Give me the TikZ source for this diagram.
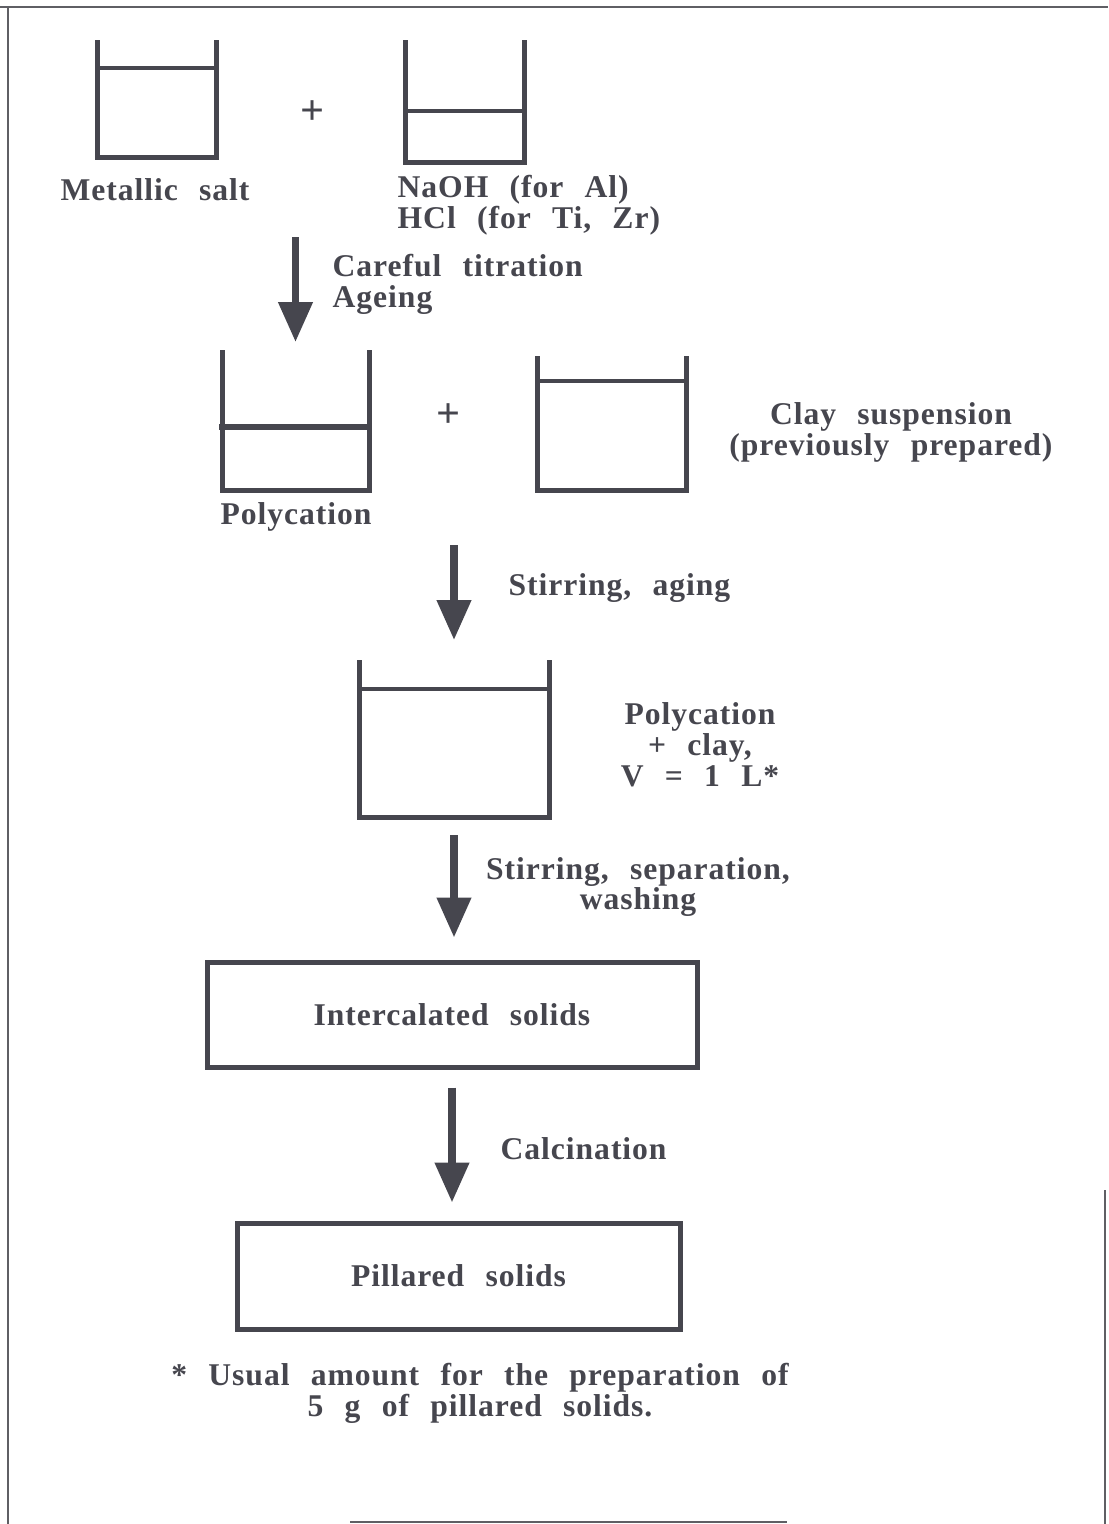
\documentclass[tikz,border=0pt]{standalone}
\usepackage{fontspec}
\setmainfont{Liberation Serif}[LetterSpace=3,WordSpace=2.4]
\usetikzlibrary{arrows.meta,positioning}
\usepackage{xcolor}
\definecolor{inkgray}{RGB}{70,70,78}
\definecolor{framegray}{RGB}{95,95,100}

\begin{document}
\begin{tikzpicture}[
    label/.style={font=\fontsize{9}{8.8}\selectfont\bfseries, text=inkgray, inner sep=0pt},
    plus/.style={font=\fontsize{12}{12}\selectfont\bfseries, text=inkgray, inner sep=0pt},
    beaker/.style={rectangle, inner sep=0pt, outer sep=0pt},
    wall/.style={line width=0.05cm, draw=inkgray, line cap=rect},
    liquid/.style={line width=0.04cm, draw=inkgray},
    stage/.style={rectangle, draw=inkgray, line width=0.05cm, inner sep=0pt,
                  font=\fontsize{9}{8.8}\selectfont\bfseries, text=inkgray},
    flow/.style={-{Triangle[width=0.33cm,length=0.40cm]}, line width=0.075cm, draw=inkgray}
]
\useasboundingbox (0,0) rectangle (11.08,-15.24);

% Frame
\draw[framegray, line width=0.02cm] (0,-0.07) -- (11.08,-0.07);
\draw[framegray, line width=0.02cm] (0.08,-0.07) -- (0.08,-15.24);
\draw[framegray, line width=0.02cm] (11.05,-11.90) -- (11.05,-15.24);
\draw[framegray, line width=0.02cm] (3.50,-15.22) -- (7.87,-15.22);

% Beakers
\node[beaker, minimum width=1.19cm, minimum height=1.15cm] (salt) at (1.565,-0.995) {};
\node[beaker, minimum width=1.19cm, minimum height=1.20cm] (base) at (4.645,-1.02) {};
\node[beaker, minimum width=1.47cm, minimum height=1.38cm] (poly) at (2.955,-4.21) {};
\node[beaker, minimum width=1.49cm, minimum height=1.32cm] (clay) at (6.115,-4.24) {};
\node[beaker, minimum width=1.90cm, minimum height=1.55cm] (mix) at (4.54,-7.395) {};

\draw[wall] (salt.north west) |- (salt.south east) -- (salt.north east);
\draw[liquid] ([yshift=-0.26cm]salt.north west) -- ([yshift=-0.26cm]salt.north east);
\draw[wall] (base.north west) |- (base.south east) -- (base.north east);
\draw[liquid] ([yshift=-0.69cm]base.north west) -- ([yshift=-0.69cm]base.north east);
\draw[wall] (poly.north west) |- (poly.south east) -- (poly.north east);
\draw[wall, line width=0.065cm] ([yshift=-0.75cm]poly.north west) -- ([yshift=-0.75cm]poly.north east);
\draw[wall] (clay.north west) |- (clay.south east) -- (clay.north east);
\draw[liquid] ([yshift=-0.23cm]clay.north west) -- ([yshift=-0.23cm]clay.north east);
\draw[wall] (mix.north west) |- (mix.south east) -- (mix.north east);
\draw[liquid] ([yshift=-0.27cm]mix.north west) -- ([yshift=-0.27cm]mix.north east);

% Plus signs
\node[plus] (plus1) at (3.13,-1.13) {+};
\node[plus] (plus2) at (4.49,-4.16) {+};

% Labels
\node[label] (saltlbl) at (1.55,-1.90) {Metallic salt};
\node[label, anchor=west, align=left] (baselbl) at (3.97,-2.055) {NaOH (for Al)\\HCl (for Ti, Zr)};
\node[label] (polylbl) at (2.96,-5.17) {Polycation};
\node[label, align=center] (claylbl) at (8.91,-4.32) {Clay suspension\\(previously prepared)};
\node[label, align=center] (mixlbl) at (7.00,-7.45) {Polycation\\+ clay,\\V = 1 L*};

% Solids
\node[stage, minimum width=4.90cm, minimum height=1.05cm] (inter) at (4.52,-10.145) {Intercalated solids};
\node[stage, minimum width=4.43cm, minimum height=1.06cm] (pill) at (4.585,-12.76) {Pillared solids};

% Arrows
\coordinate (a1) at (2.955,-2.37);
\coordinate (a2) at (4.54,-5.45);
\draw[flow] (a1) -- ([yshift=0.1cm]poly.north);
\draw[flow] (a2) -- ([yshift=0.22cm]mix.north);
\draw[flow, shorten <=0.18cm, shorten >=0.22cm] (mix.south) -- (mix.south |- inter.north);
\draw[flow, shorten <=0.18cm, shorten >=0.18cm] (inter.south) -- (inter.south |- pill.north);

% Steps
\node[label, anchor=west, align=left] (titr) at (3.32,-2.84) {Careful titration\\Ageing};
\node[label, anchor=west] (stir) at (5.08,-5.88) {Stirring, aging};
\node[label, align=center] (wash) at (6.38,-8.87) {Stirring, separation,\\washing};
\node[label, anchor=west] (calc) at (5.00,-11.49) {Calcination};

% Footnote
\node[label, align=center] (note) at (4.80,-13.93) {* Usual amount for the preparation of\\5 g of pillared solids.};

\end{tikzpicture}
\end{document}
